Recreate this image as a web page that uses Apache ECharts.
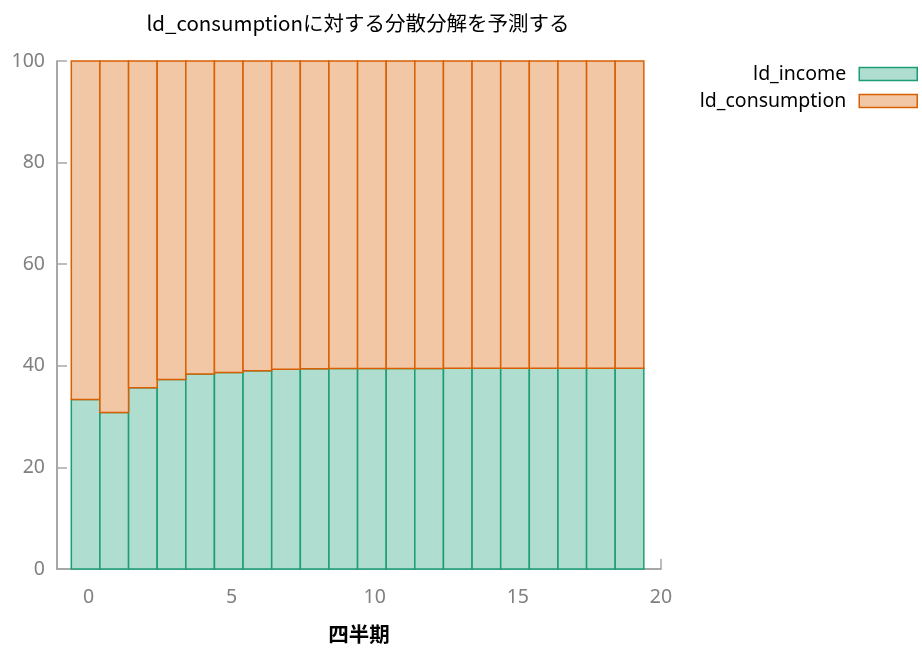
<!DOCTYPE html>
<html>
<head>
<meta charset="utf-8">
<script src="https://cdn.jsdelivr.net/npm/echarts@6/dist/echarts.min.js"></script>
<style>html,body{margin:0;padding:0;background:#fff;}#c{width:922px;height:650px;}</style>
</head>
<body>
<div id="c"></div>
<script>
const quarters = [0,1,2,3,4,5,6,7,8,9,10,11,12,13,14,15,16,17,18,19];
const ldIncome = [33.35,30.8,35.7,37.3,38.4,38.7,39.05,39.3,39.4,39.45,39.45,39.47,39.48,39.5,39.5,39.5,39.5,39.5,39.5,39.5];
const ldConsumption = [66.65,69.2,64.3,62.7,61.6,61.3,60.95,60.7,60.6,60.55,60.55,60.53,60.52,60.5,60.5,60.5,60.5,60.5,60.5,60.5];
const xTickLabels = [0,5,10,15,20];
const yTicks = [0,20,40,60,80,100];

const seriesDefs = [
  {name:'ld_income', values: ldIncome, fill:'#afddcf', stroke:'#1b9e77'},
  {name:'ld_consumption', values: ldConsumption, fill:'#f2c7a6', stroke:'#d95f02'}
];

function makeSeries(idx){
  const def = seriesDefs[idx];
  const data = quarters.map((q,i)=>{
    let base = 0;
    for(let k=0;k<idx;k++) base += seriesDefs[k].values[i];
    return [q, base, base + def.values[i]];
  });
  return {
    name: def.name,
    type: 'custom',
    itemStyle: {color: def.fill, borderColor: def.stroke},
    encode: {x: 0, y: [1,2]},
    data: data,
    renderItem: function(params, api){
      const q = api.value(0), b = api.value(1), t = api.value(2);
      const p0 = api.coord([q-0.6, b]);
      const p1 = api.coord([q+0.4, t]);
      return {
        type: 'rect',
        shape: {x: p0[0], y: p1[1], width: p1[0]-p0[0], height: p0[1]-p1[1]},
        style: {fill: def.fill, stroke: def.stroke, lineWidth: 1.5}
      };
    }
  };
}

const chart = echarts.init(document.getElementById('c'));
chart.setOption({
  animation: false,
  backgroundColor: '#ffffff',
  title: {
    text: 'ld_consumptionに対する分散分解を予測する',
    left: 358, top: 13, textAlign: 'center', padding: 0,
    textStyle: {fontFamily: 'Noto Sans CJK JP', fontSize: 20.5, fontWeight: 'normal', color: '#000'}
  },
  legend: {
    orient: 'vertical', right: 4, top: 64, align: 'right', padding: 0,
    itemWidth: 58, itemHeight: 13, itemGap: 7,
    textStyle: {fontFamily: 'Noto Sans', fontSize: 19.5, lineHeight: 20, color: '#000', padding: [0, 8, 0, 0]},
    data: seriesDefs.map(d=>({name: d.name, icon: 'rect', itemStyle: {color: d.fill, borderColor: d.stroke, borderWidth: 1.5}}))
  },
  grid: {left: 57, right: 261, top: 61, bottom: 81, containLabel: false, outerBoundsMode: 'none'},
  xAxis: {
    type: 'value', min: -1.1, max: 20,
    name: '四半期', nameLocation: 'middle', nameGap: 55,
    nameTextStyle: {fontFamily: 'Noto Sans CJK JP', fontSize: 20.5, fontWeight: 'bold', color: '#000'},
    axisLine: {show: true, onZero: false, lineStyle: {color: '#8a8a8a', width: 1.5}},
    axisTick: {show: true, inside: true, length: 10, customValues: xTickLabels, lineStyle: {color: '#a8a8a8', width: 1.5}},
    axisLabel: {customValues: xTickLabels, margin: 18, fontFamily: 'Noto Sans', fontSize: 19.5, color: '#808080'},
    splitLine: {show: false}
  },
  yAxis: {
    type: 'value', min: 0, max: 100, interval: 20,
    axisLine: {show: true, onZero: false, lineStyle: {color: '#8a8a8a', width: 1.5}},
    axisTick: {show: true, inside: true, length: 10, lineStyle: {color: '#a8a8a8', width: 1.5}},
    axisLabel: {margin: 12, fontFamily: 'Noto Sans', fontSize: 19.5, color: '#808080',
      customValues: yTicks},
    splitLine: {show: false}
  },
  series: [makeSeries(0), makeSeries(1)]
});
</script>
</body>
</html>
